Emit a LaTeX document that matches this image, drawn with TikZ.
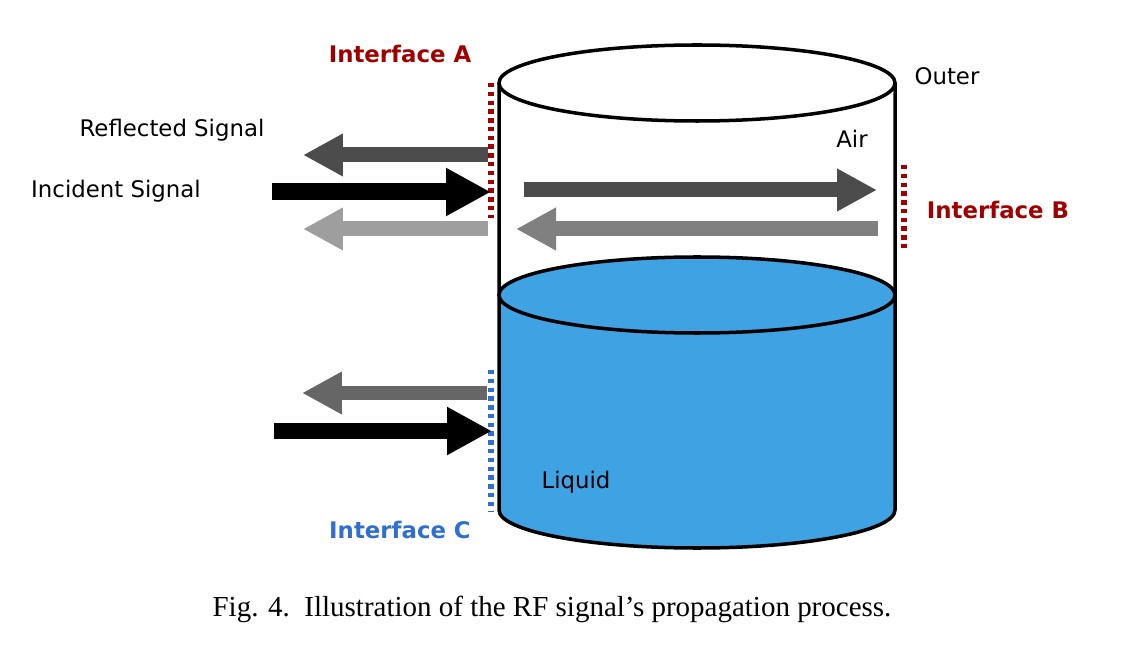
\documentclass[tikz,border=0pt]{standalone}
\usepackage{fontspec}
\setmainfont{DejaVu Sans}
\newfontfamily\capfont{Liberation Serif}
\usetikzlibrary{arrows.meta}
\definecolor{liquid}{RGB}{63, 162, 227}
\definecolor{ifred}{RGB}{160, 0, 0}
\definecolor{ifblue}{RGB}{47, 111, 207}
\begin{document}
\begin{tikzpicture}[x=0.02cm, y=-0.02cm,
      blockarrow/.style={line width=0.34cm, -{Triangle[length=0.9cm, width=0.9cm]}},
      smallarrow/.style={line width=0.3cm, -{Triangle[length=0.8cm, width=0.8cm]}},
      iface/.style={line width=3pt, dash pattern=on 2.5pt off 2.5pt},
      label/.style={font=\fontsize{13}{15}\selectfont},
      iflabel/.style={font=\fontsize{13}{15}\selectfont\bfseries}
    ]
      \useasboundingbox (0,0) rectangle (1122,665);

      % Cylinder
      \fill[liquid] (499,295) -- (499,510) arc[start angle=180, end angle=0, x radius=198, y radius=38] -- (895,295) -- cycle;
      \draw[line width=2pt, fill=liquid] (697,295) ellipse[x radius=198, y radius=38];
      \draw[line width=2pt, fill=white] (697,83) ellipse[x radius=198, y radius=38];
      \draw[line width=2pt] (499,83) -- (499,510) arc[start angle=180, end angle=0, x radius=198, y radius=38] -- (895,83);

      % Interfaces
      \draw[iface, ifred] (491,83) -- (491,218);
      \draw[iface, ifred] (904,165) -- (904,252);
      \draw[iface, ifblue] (491,370) -- (491,512);

      % Arrows
      \coordinate (refS) at (488,155); \coordinate (refE) at (303,155);
      \coordinate (incS) at (272,192); \coordinate (incE) at (491,192);
      \coordinate (trnS) at (488,229); \coordinate (trnE) at (303,229);
      \coordinate (airS) at (524,190); \coordinate (airE) at (877,190);
      \coordinate (bckS) at (878,229); \coordinate (bckE) at (516,229);
      \coordinate (lrfS) at (487,393); \coordinate (lrfE) at (302,393);
      \coordinate (linS) at (274,431); \coordinate (linE) at (492,431);
      \draw[smallarrow, black!70] (refS) -- (refE);
      \draw[blockarrow, black] (incS) -- (incE);
      \draw[smallarrow, black!38] (trnS) -- (trnE);
      \draw[smallarrow, black!70] (airS) -- (airE);
      \draw[smallarrow, black!50] (bckS) -- (bckE);
      \draw[smallarrow, black!60] (lrfS) -- (lrfE);
      \draw[blockarrow, black] (linS) -- (linE);

      % Labels
      \node[iflabel, ifred] (ifA) at (400,54) {Interface A};
      \node[iflabel, ifred] (ifB) at (998,210) {Interface B};
      \node[iflabel, ifblue] (ifC) at (400,530) {Interface C};
      \node[label] (outer) at (947,76) {Outer};
      \node[label] (air) at (852,139) {Air};
      \node[label] (liq) at (576,482) {Liquid};
      \node[label] (refl) at (172,130) {Reflected Signal};
      \node[label] (inc) at (116,191) {Incident Signal};
      \node[font=\capfont\fontsize{16.5}{19}\selectfont] (cap) at (552,609) {Fig. 4.\ \ Illustration of the RF signal’s propagation process.};
    \end{tikzpicture}
\end{document}
